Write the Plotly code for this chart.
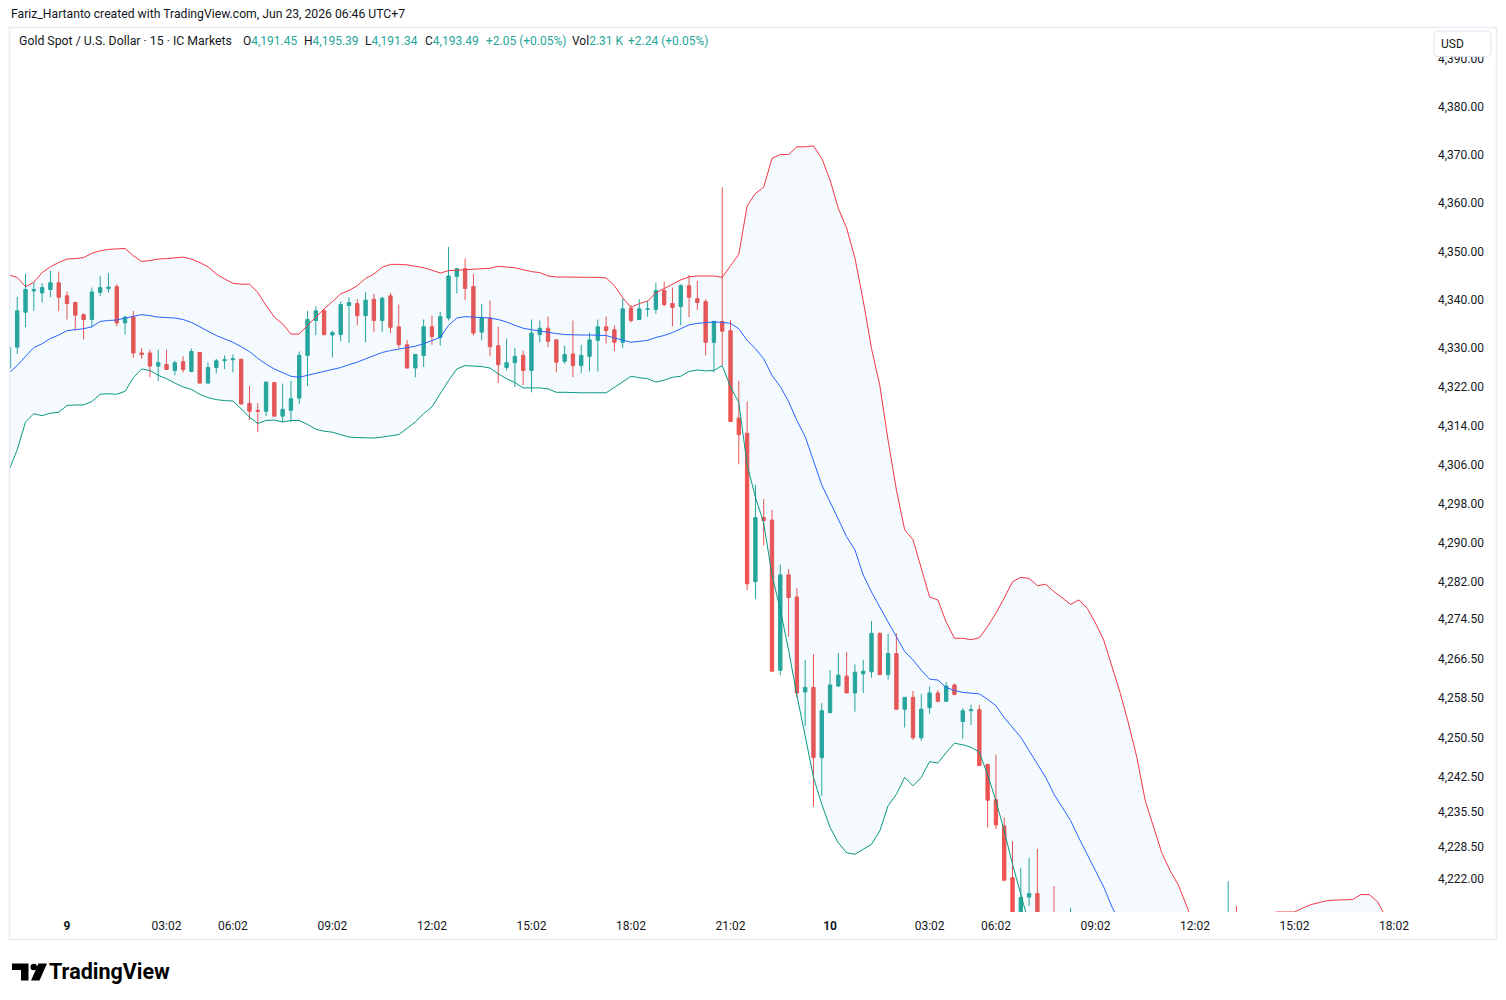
import math
import plotly.graph_objects as go

W, H = 1506, 1000

# ---------------- data (15-minute bars, index 0 = day "9" 00:02) ----------------
first_bar_index = -7

opens = [4325.9, 4330.2, 4337.4, 4341.8, 4341.4, 4342.1, 4343.5, 4340.8, 4339.4, 4336.9,
         4335.9, 4341.5, 4342.3, 4342.7, 4335.2, 4336.4, 4329.0, 4329.0, 4326.3, 4326.6,
         4325.4, 4327.2, 4325.2, 4329.1, 4322.8, 4326.0, 4327.4, 4327.6, 4327.7, 4318.6,
         4317.2, 4317.0, 4322.9, 4316.0, 4317.2, 4319.7, 4328.5, 4335.7, 4337.7, 4332.7,
         4332.8, 4338.8, 4339.2, 4336.7, 4340.1, 4335.7, 4340.8, 4334.4, 4330.7, 4325.9,
         4328.5, 4334.4, 4332.2, 4336.2, 4344.8, 4346.4, 4342.7, 4333.3, 4336.2, 4330.5,
         4326.0, 4327.0, 4328.5, 4325.4, 4332.8, 4334.1, 4331.7, 4327.3, 4328.8, 4326.4,
         4328.3, 4331.6, 4334.4, 4333.8, 4331.2, 4338.2, 4335.9, 4338.0, 4338.0, 4341.9,
         4339.2, 4338.6, 4342.9, 4340.2, 4339.6, 4331.2, 4335.5, 4333.6, 4315.6, 4312.5,
         4282.1, 4295.2, 4294.7, 4264.1, 4283.5, 4279.0, 4259.7, 4260.6, 4246.4, 4255.5,
         4260.9, 4262.9, 4259.5, 4263.4, 4263.8, 4271.6, 4263.2, 4267.5, 4256.2, 4258.6,
         4250.4, 4256.5, 4259.5, 4257.8, 4261.1, 4253.7, 4255.9, 4256.1, 4245.0, 4237.9,
         4232.6, 4222.2, 4211.5, 4218.3, 4219.0, 4208.4, 4203.1, 4198.4, 4195.5, 4200.2,
         4196.3, 4192.7, 4197.8, 4199.1, 4194.8, 4191.9, 4195.6, 4198.5, 4196.4, 4193.8,
         4197.1, 4195.2, 4193.3, 4196.6, 4195.0, 4194.2, 4196.9, 4195.7, 4203.4, 4198.0,
         4200.9, 4199.2, 4197.5, 4200.4, 4198.8, 4196.2, 4199.5, 4202.3, 4200.1, 4197.4,
         4199.8, 4201.5, 4197.9, 4195.2, 4194.0, 4192.6, 4191.45]

highs = [4331.0, 4340.6, 4345.4, 4343.6, 4343.4, 4346.0, 4345.8, 4341.7, 4339.6, 4337.2,
         4342.5, 4344.9, 4345.5, 4343.2, 4336.6, 4337.7, 4330.1, 4329.7, 4329.7, 4329.7,
         4327.4, 4328.3, 4329.9, 4329.2, 4327.0, 4327.8, 4328.5, 4328.7, 4327.8, 4322.2,
         4318.7, 4323.1, 4323.0, 4322.7, 4323.3, 4329.3, 4337.7, 4338.6, 4338.1, 4333.6,
         4339.6, 4340.5, 4340.1, 4341.6, 4341.2, 4340.6, 4341.4, 4339.0, 4331.7, 4328.8,
         4335.9, 4336.7, 4337.5, 4350.9, 4346.6, 4348.5, 4345.3, 4339.1, 4339.8, 4334.4,
         4332.0, 4330.0, 4329.5, 4335.9, 4335.7, 4336.5, 4331.9, 4330.5, 4335.7, 4330.7,
         4333.2, 4335.9, 4336.5, 4334.7, 4340.3, 4338.9, 4340.1, 4339.8, 4343.5, 4343.7,
         4342.5, 4343.2, 4345.1, 4343.9, 4340.1, 4335.7, 4363.3, 4335.8, 4323.3, 4319.0,
         4301.9, 4299.0, 4296.8, 4285.6, 4284.7, 4280.8, 4266.2, 4267.4, 4257.4, 4264.1,
         4267.6, 4267.8, 4265.3, 4266.2, 4274.1, 4271.8, 4271.5, 4271.6, 4258.6, 4259.9,
         4259.3, 4260.8, 4260.1, 4261.7, 4261.4, 4256.4, 4257.1, 4257.1, 4245.2, 4247.0,
         4234.3, 4229.6, 4224.2, 4226.2, 4228.0, 4212.5, 4220.5, 4207.3, 4216.1, 4204.8,
         4201.5, 4199.6, 4203.4, 4202.6, 4198.7, 4197.2, 4200.8, 4203.1, 4199.9, 4198.3,
         4201.2, 4198.0, 4197.5, 4199.3, 4197.9, 4198.1, 4199.2, 4221.5, 4216.5, 4202.6,
         4204.0, 4203.5, 4201.9, 4204.7, 4202.1, 4200.3, 4205.2, 4206.8, 4203.0, 4201.6,
         4204.1, 4203.9, 4200.5, 4198.4, 4196.8, 4194.7, 4195.39]

lows = [4325.0, 4328.8, 4334.3, 4337.7, 4339.4, 4340.5, 4337.6, 4335.9, 4333.6, 4331.8,
        4334.3, 4340.7, 4341.5, 4334.5, 4332.8, 4328.0, 4327.8, 4324.0, 4323.2, 4325.5,
        4324.4, 4325.0, 4325.0, 4322.7, 4322.6, 4324.8, 4325.7, 4325.0, 4318.4, 4315.2,
        4312.7, 4316.0, 4315.9, 4314.8, 4314.8, 4318.5, 4322.2, 4332.7, 4332.6, 4328.1,
        4331.4, 4331.1, 4334.7, 4331.2, 4333.3, 4333.3, 4333.1, 4329.9, 4325.8, 4324.0,
        4326.1, 4330.7, 4330.5, 4335.7, 4341.3, 4339.9, 4332.6, 4331.6, 4328.3, 4322.8,
        4325.4, 4322.0, 4322.4, 4320.9, 4331.2, 4330.2, 4325.0, 4326.8, 4324.0, 4324.8,
        4325.2, 4325.2, 4331.0, 4329.4, 4330.0, 4335.3, 4335.8, 4336.5, 4337.1, 4338.6,
        4334.5, 4334.7, 4336.4, 4337.9, 4328.5, 4325.0, 4326.5, 4314.8, 4306.1, 4280.4,
        4278.6, 4289.5, 4263.8, 4263.1, 4270.9, 4258.6, 4252.8, 4236.5, 4238.7, 4255.4,
        4260.7, 4259.4, 4255.7, 4259.5, 4262.6, 4263.1, 4262.2, 4256.1, 4252.5, 4250.0,
        4249.8, 4255.3, 4257.6, 4257.7, 4259.0, 4250.2, 4253.0, 4244.7, 4232.3, 4232.0,
        4221.5, 4209.8, 4208.7, 4216.5, 4206.0, 4199.8, 4195.2, 4192.6, 4193.0, 4194.1,
        4190.4, 4188.9, 4194.0, 4193.5, 4189.6, 4189.1, 4192.3, 4195.7, 4192.2, 4190.6,
        4194.4, 4191.8, 4190.7, 4193.9, 4192.5, 4191.9, 4194.4, 4194.8, 4196.2, 4195.4,
        4197.3, 4195.8, 4194.6, 4197.8, 4195.1, 4193.7, 4197.6, 4199.4, 4196.5, 4194.9,
        4197.2, 4196.6, 4193.8, 4191.9, 4190.5, 4190.2, 4191.34]

closes = [4330.2, 4337.7, 4342.1, 4342.1, 4342.5, 4343.5, 4340.5, 4339.2, 4336.8, 4335.9,
          4341.6, 4342.5, 4342.6, 4335.2, 4336.4, 4329.0, 4328.7, 4326.3, 4327.0, 4325.6,
          4327.0, 4325.6, 4329.3, 4322.8, 4326.0, 4327.4, 4327.6, 4327.8, 4318.5, 4317.0,
          4317.0, 4323.0, 4316.0, 4317.4, 4319.6, 4328.5, 4335.9, 4337.7, 4332.8, 4333.2,
          4339.0, 4339.4, 4336.7, 4339.9, 4335.7, 4340.3, 4334.3, 4330.7, 4325.9, 4328.7,
          4334.4, 4332.4, 4336.5, 4344.9, 4346.4, 4342.3, 4333.1, 4336.2, 4330.3, 4326.6,
          4327.0, 4328.3, 4325.4, 4333.1, 4334.1, 4331.4, 4327.1, 4328.7, 4326.4, 4328.5,
          4331.7, 4334.4, 4333.6, 4331.2, 4338.1, 4335.7, 4338.1, 4338.1, 4341.9, 4339.0,
          4338.4, 4342.9, 4340.5, 4339.4, 4331.2, 4335.5, 4333.5, 4314.9, 4312.2, 4281.7,
          4295.2, 4294.6, 4263.9, 4283.5, 4278.9, 4259.5, 4260.6, 4246.4, 4255.9, 4261.1,
          4263.1, 4259.5, 4263.7, 4263.9, 4271.6, 4263.2, 4267.5, 4256.2, 4258.6, 4250.4,
          4256.2, 4259.5, 4257.8, 4260.9, 4259.2, 4255.9, 4256.1, 4244.8, 4237.8, 4232.8,
          4221.7, 4212.0, 4218.2, 4219.0, 4208.4, 4203.1, 4198.4, 4195.5, 4200.2, 4196.3,
          4192.7, 4197.8, 4199.1, 4194.8, 4191.9, 4195.6, 4198.5, 4196.4, 4193.8, 4197.1,
          4195.2, 4193.3, 4196.6, 4195.0, 4194.2, 4196.9, 4195.7, 4203.4, 4198.0, 4200.9,
          4199.2, 4197.5, 4200.4, 4198.8, 4196.2, 4199.5, 4202.3, 4200.1, 4197.4, 4199.8,
          4201.5, 4197.9, 4195.2, 4194.0, 4192.6, 4191.44, 4193.49]

bb_upper = [4345.1, 4344.6, 4342.7, 4343.6, 4345.6, 4346.8, 4347.7, 4348.4, 4348.5, 4348.7,
            4349.6, 4350.1, 4350.4, 4350.5, 4350.6, 4349.1, 4347.9, 4348.1, 4348.4, 4348.5,
            4348.6, 4348.8, 4348.4, 4347.7, 4346.8, 4345.3, 4344.3, 4343.4, 4343.2, 4343.2,
            4341.5, 4338.8, 4336.4, 4335.0, 4332.9, 4332.9, 4334.7, 4336.5, 4338.1, 4339.6,
            4341.2, 4341.9, 4342.9, 4344.4, 4345.3, 4346.7, 4347.3, 4347.3, 4347.2, 4346.9,
            4346.6, 4346.1, 4345.5, 4346.0, 4346.1, 4346.3, 4346.4, 4346.4, 4346.5, 4346.9,
            4346.8, 4346.6, 4346.2, 4345.8, 4345.6, 4344.9, 4344.7, 4344.7, 4344.7, 4344.7,
            4344.6, 4344.6, 4344.5, 4342.9, 4340.4, 4338.4, 4339.2, 4339.7, 4341.4, 4342.3,
            4343.2, 4344.1, 4344.7, 4344.9, 4344.9, 4344.9, 4344.6, 4347.0, 4349.4, 4359.4,
            4362.0, 4363.3, 4369.3, 4370.1, 4370.1, 4371.7, 4371.7, 4371.9, 4369.3, 4364.8,
            4358.9, 4354.8, 4348.6, 4339.8, 4329.9, 4322.3, 4311.0, 4300.9, 4292.7, 4290.7,
            4284.9, 4279.0, 4278.4, 4273.9, 4270.6, 4270.6, 4270.3, 4270.7, 4273.0, 4275.7,
            4278.8, 4282.1, 4283.0, 4282.8, 4281.3, 4281.6, 4280.1, 4278.8, 4277.5, 4278.4,
            4276.7, 4273.7, 4270.2, 4264.8, 4259.4, 4253.2, 4246.4, 4237.7, 4232.4, 4227.2,
            4223.6, 4220.7, 4216.5, 4212.0, 4209.0, 4207.0, 4206.0, 4206.0, 4207.0, 4209.0,
            4211.0, 4213.0, 4215.1, 4215.3, 4215.3, 4215.3, 4216.1, 4216.8, 4217.2, 4217.6,
            4217.7, 4217.8, 4217.8, 4218.8, 4218.8, 4217.4, 4214.3]

bb_basis = [4324.9, 4326.4, 4328.3, 4330.1, 4330.9, 4332.0, 4332.7, 4333.6, 4333.8, 4334.0,
            4334.4, 4335.5, 4335.7, 4335.8, 4336.2, 4336.6, 4336.9, 4336.7, 4336.4, 4336.3,
            4336.2, 4335.9, 4335.3, 4334.4, 4333.5, 4332.6, 4331.9, 4331.2, 4330.3, 4329.3,
            4327.9, 4326.7, 4325.7, 4324.9, 4324.2, 4324.0, 4324.4, 4324.8, 4325.2, 4325.6,
            4326.0, 4326.6, 4327.1, 4327.8, 4328.5, 4329.1, 4329.5, 4329.8, 4330.1, 4330.4,
            4330.9, 4331.5, 4332.2, 4334.7, 4336.2, 4336.5, 4336.4, 4336.4, 4336.2, 4335.9,
            4335.4, 4334.7, 4334.1, 4333.8, 4333.5, 4333.3, 4333.0, 4332.8, 4332.7, 4332.7,
            4332.7, 4332.7, 4332.6, 4332.1, 4331.6, 4331.2, 4331.4, 4331.6, 4332.2, 4332.6,
            4333.2, 4334.0, 4334.8, 4335.1, 4335.2, 4335.4, 4335.3, 4335.1, 4334.0, 4331.6,
            4329.9, 4327.8, 4324.4, 4322.1, 4319.0, 4315.1, 4311.8, 4306.8, 4301.9, 4298.4,
            4294.7, 4291.3, 4288.6, 4283.5, 4280.0, 4276.8, 4273.9, 4270.9, 4267.9, 4266.2,
            4264.1, 4262.3, 4262.1, 4260.6, 4260.0, 4259.6, 4259.5, 4259.3, 4258.2, 4256.9,
            4254.5, 4252.5, 4250.5, 4247.8, 4245.1, 4242.4, 4239.0, 4236.3, 4233.7, 4230.2,
            4226.9, 4223.6, 4220.3, 4216.3, 4213.0, 4210.2, 4207.6, 4205.3, 4203.1, 4201.2,
            4199.6, 4198.3, 4197.2, 4196.4, 4195.8, 4195.4, 4195.3, 4195.8, 4196.2, 4196.5,
            4196.8, 4197.0, 4197.3, 4197.5, 4197.6, 4197.6, 4197.7, 4197.8, 4197.8, 4197.9,
            4198.0, 4198.0, 4198.0, 4198.2, 4198.2, 4198.0, 4197.6]

bb_lower = [4304.9, 4309.1, 4314.8, 4316.5, 4316.1, 4316.6, 4316.8, 4318.2, 4318.3, 4318.3,
            4319.0, 4320.5, 4320.6, 4320.5, 4321.1, 4323.9, 4325.7, 4325.4, 4324.4, 4323.7,
            4322.8, 4322.0, 4321.5, 4320.5, 4319.8, 4319.4, 4319.2, 4319.1, 4317.5, 4315.8,
            4314.5, 4315.1, 4315.2, 4314.8, 4315.1, 4315.1, 4314.3, 4313.3, 4312.9, 4312.7,
            4312.2, 4311.7, 4311.6, 4311.5, 4311.5, 4311.7, 4311.9, 4312.2, 4313.5, 4314.8,
            4316.5, 4317.9, 4320.6, 4323.3, 4325.7, 4326.4, 4326.3, 4326.2, 4325.9, 4324.7,
            4323.7, 4322.9, 4321.8, 4321.8, 4321.8, 4321.6, 4320.9, 4320.9, 4320.8, 4320.8,
            4320.8, 4320.8, 4320.8, 4321.9, 4323.0, 4324.2, 4323.9, 4323.7, 4323.0, 4323.4,
            4324.0, 4324.2, 4325.2, 4325.5, 4325.3, 4325.4, 4326.4, 4322.0, 4318.8, 4306.0,
            4299.4, 4294.1, 4283.5, 4276.4, 4268.2, 4259.0, 4250.8, 4242.4, 4237.0, 4232.3,
            4229.2, 4227.2, 4226.9, 4227.9, 4228.9, 4231.6, 4236.7, 4239.0, 4242.4, 4240.7,
            4242.4, 4245.6, 4245.3, 4247.4, 4249.3, 4249.0, 4248.5, 4247.5, 4242.9, 4237.7,
            4231.6, 4224.9, 4218.9, 4212.8, 4208.9, 4203.2, 4197.9, 4193.8, 4189.9, 4182.0,
            4177.1, 4173.5, 4170.4, 4167.8, 4166.6, 4167.2, 4168.8, 4172.9, 4173.8, 4175.2,
            4175.6, 4175.9, 4177.9, 4180.8, 4182.6, 4183.8, 4184.6, 4185.6, 4185.4, 4184.0,
            4182.6, 4181.0, 4179.5, 4179.7, 4179.9, 4179.9, 4179.3, 4178.8, 4178.4, 4178.2,
            4178.3, 4178.2, 4178.2, 4177.6, 4177.6, 4178.6, 4180.9]

x_tick_bars = [0, 12, 20, 32, 44, 56, 68, 80, 92, 104, 112, 124, 136, 148, 160]
x_tick_labels = ["<b>9</b>", "03:02", "06:02", "09:02", "12:02", "15:02", "18:02", "21:02",
                 "<b>10</b>", "03:02", "06:02", "09:02", "12:02", "15:02", "18:02"]
y_tick_values = [4390, 4380, 4370, 4360, 4350, 4340, 4330, 4322, 4314, 4306, 4298, 4290,
                 4282, 4274.5, 4266.5, 4258.5, 4250.5, 4242.5, 4235.5, 4228.5, 4222]
volume_text = ["2.31 K", "+2.24 (+0.05%)"]

# ---------------- styling ----------------
UP = "#26a69a"
DOWN = "#ef5350"
TXT = "#131722"
FONT = "Roboto"

bars = list(range(first_bar_index, first_bar_index + len(closes)))


def px(x):
    return x / W


def py(y):
    return 1 - y / H


# plot area in pixels
PL, PR, PT, PB = 10, 1422, 28, 912
BAR0_PX, BAR_W = 67.0, 8.294

fig = go.Figure()
fig.add_trace(go.Candlestick(
    x=bars, open=opens, high=highs, low=lows, close=closes,
    increasing=dict(line=dict(color=UP, width=1), fillcolor=UP),
    decreasing=dict(line=dict(color=DOWN, width=1), fillcolor=DOWN),
    whiskerwidth=0, hoverinfo="skip", showlegend=False))
fig.add_trace(go.Scatter(x=bars, y=bb_upper, mode="lines",
                         line=dict(color="#F23645", width=1), hoverinfo="skip"))
fig.add_trace(go.Scatter(x=bars, y=bb_lower, mode="lines",
                         line=dict(color="#089981", width=1), hoverinfo="skip",
                         fill="tonexty", fillcolor="rgba(33,150,243,0.05)"))
fig.add_trace(go.Scatter(x=bars, y=bb_basis, mode="lines",
                         line=dict(color="#2962FF", width=1), hoverinfo="skip"))

y_top_price, y_bot_price = 4396.5, 4215.3

fig.update_layout(
    width=W, height=H, margin=dict(l=0, r=0, t=0, b=0),
    paper_bgcolor="white", plot_bgcolor="white", showlegend=False,
    boxgap=0.42, hovermode=False,
    font=dict(family=FONT, size=12, color=TXT),
    xaxis=dict(
        domain=[px(PL), px(PR)],
        range=[(PL - BAR0_PX) / BAR_W, (PR - BAR0_PX) / BAR_W],
        tickmode="array", tickvals=x_tick_bars, ticktext=x_tick_labels,
        showgrid=False, zeroline=False, showline=False, ticks="",
        tickfont=dict(family=FONT, size=12, color=TXT),
        ticklabelstandoff=5,
        rangeslider=dict(visible=False), fixedrange=True),
    yaxis=dict(
        domain=[py(PB), py(PT)], type="log",
        range=[math.log10(y_bot_price), math.log10(y_top_price)],
        side="right", tickmode="array", tickvals=y_tick_values,
        ticktext=[f"{v:,.2f}" for v in y_tick_values],
        showgrid=False, zeroline=False, showline=False, ticks="",
        tickfont=dict(family=FONT, size=12, color=TXT),
        ticklabelstandoff=15, fixedrange=True),
)

shapes = []
# chart frame
shapes.append(dict(type="rect", xref="paper", yref="paper",
                   x0=px(9.5), x1=px(1496.5), y0=py(939.5), y1=py(27.5),
                   line=dict(color="#E9ECF2", width=1.5), fillcolor="rgba(0,0,0,0)",
                   layer="above"))


def rrect(x0, y0, x1, y1, r):
    p = [
        f"M{px(x0 + r)},{py(y0)}", f"L{px(x1 - r)},{py(y0)}",
        f"Q{px(x1)},{py(y0)} {px(x1)},{py(y0 + r)}", f"L{px(x1)},{py(y1 - r)}",
        f"Q{px(x1)},{py(y1)} {px(x1 - r)},{py(y1)}", f"L{px(x0 + r)},{py(y1)}",
        f"Q{px(x0)},{py(y1)} {px(x0)},{py(y1 - r)}", f"L{px(x0)},{py(y0 + r)}",
        f"Q{px(x0)},{py(y0)} {px(x0 + r)},{py(y0)}", "Z"]
    return " ".join(p)


# USD button
shapes.append(dict(type="path", xref="paper", yref="paper",
                   path=rrect(1434, 31, 1491, 56.5, 4),
                   line=dict(color="#E0E3EB", width=1), fillcolor="white", layer="above"))


def poly(points):
    return "M" + " L".join(f"{px(a)},{py(b)}" for a, b in points) + " Z"


# TradingView logo glyph
shapes.append(dict(type="path", xref="paper", yref="paper",
                   path=poly([(12, 963.5), (28.5, 963.5), (28.5, 980.5), (21, 980.5),
                              (21, 970), (12, 970)]),
                   line=dict(width=0), fillcolor="#000000", layer="above"))
shapes.append(dict(type="circle", xref="paper", yref="paper",
                   x0=px(30.5), x1=px(37), y0=py(970.2), y1=py(963.7),
                   line=dict(width=0), fillcolor="#000000", layer="above"))
shapes.append(dict(type="path", xref="paper", yref="paper",
                   path=poly([(38.5, 963.5), (47, 963.5), (39.5, 980.5), (31, 980.5)]),
                   line=dict(width=0), fillcolor="#000000", layer="above"))

annotations = []
annotations.append(dict(xref="paper", yref="paper", x=px(9), y=py(14), xanchor="left",
                        yanchor="middle", showarrow=False,
                        text="Fariz_Hartanto created with TradingView.com, Jun 23, 2026 06:46 UTC+7",
                        font=dict(family=FONT, size=12.2, color=TXT)))

chg = closes[-1] - closes[-2]
pct = chg / closes[-2] * 100


def col(s):
    return f"<span style='color:{UP if chg >= 0 else DOWN}'>{s}</span>"


legend_items = [
    ("Gold Spot / U.S. Dollar · 15 · IC Markets", 16.5, 12.3),
    ("O" + col(f"{opens[-1]:,.2f}"), 240.5, 12),
    ("H" + col(f"{highs[-1]:,.2f}"), 301.5, 12),
    ("L" + col(f"{lows[-1]:,.2f}"), 363, 12),
    ("C" + col(f"{closes[-1]:,.2f}"), 423, 12),
    (col(f"{chg:+.2f} ({pct:+.2f}%)"), 484, 12),
    ("Vol" + col(volume_text[0]), 570, 12),
    (col(volume_text[1]), 626, 12),
]
for text, xpos, fs in legend_items:
    annotations.append(dict(xref="paper", yref="paper", x=px(xpos), y=py(41.5),
                            xanchor="left", yanchor="middle", showarrow=False, text=text,
                            font=dict(family=FONT, size=fs, color=TXT)))

annotations.append(dict(xref="paper", yref="paper", x=px(1439), y=py(44), xanchor="left",
                        yanchor="middle", showarrow=False, text="USD",
                        font=dict(family=FONT, size=12, color=TXT)))
annotations.append(dict(xref="paper", yref="paper", x=px(47), y=py(971), xanchor="left",
                        yanchor="middle", showarrow=False, text="<b>TradingView</b>",
                        font=dict(family=FONT, size=21.5, color="#000000")))

fig.update_layout(shapes=shapes, annotations=annotations)

fig.write_html("out.html", config={"displayModeBar": False, "staticPlot": True})
